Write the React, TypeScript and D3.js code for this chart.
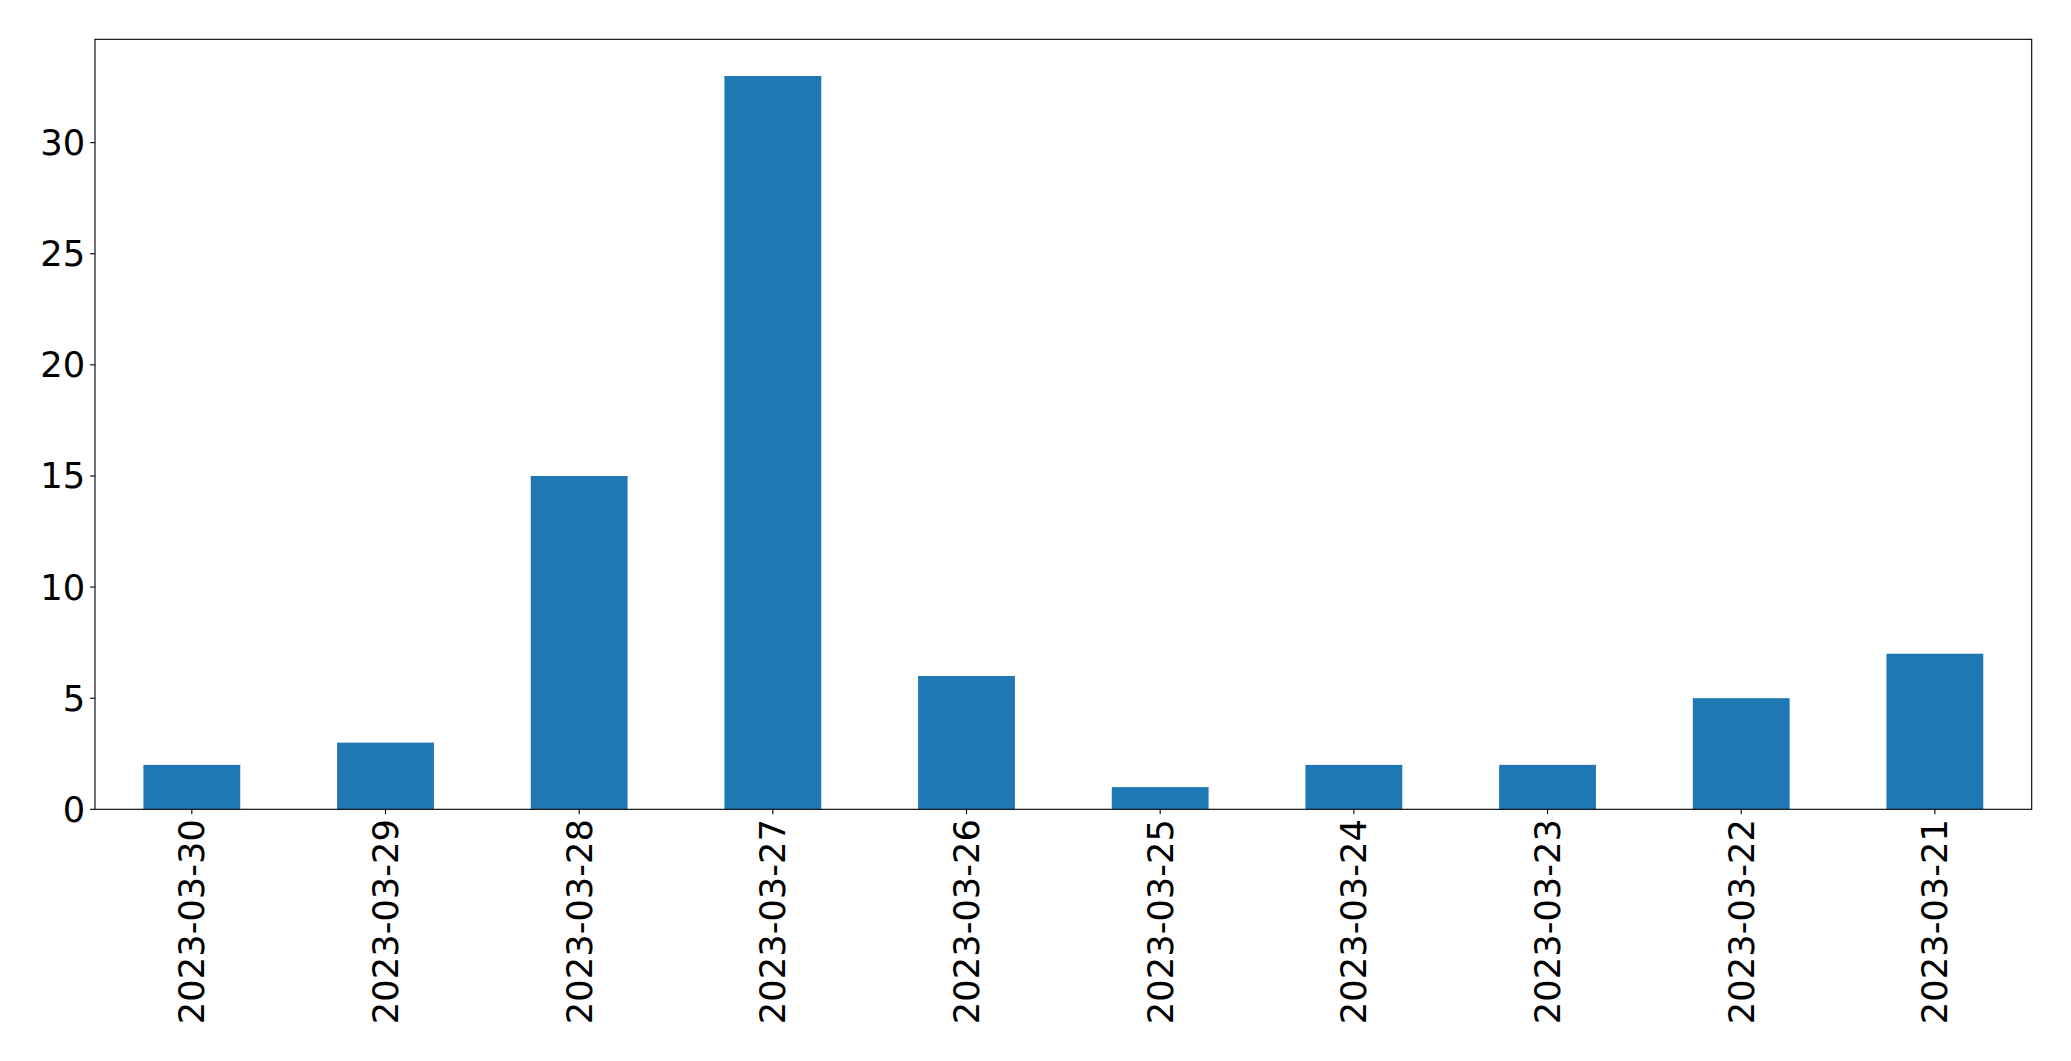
import React, { useEffect, useRef } from "react";
import * as d3 from "d3";

const categories: string[] = [
  "2023-03-30", "2023-03-29", "2023-03-28", "2023-03-27", "2023-03-26",
  "2023-03-25", "2023-03-24", "2023-03-23", "2023-03-22", "2023-03-21",
];
const counts: number[] = [2, 3, 15, 33, 6, 1, 2, 2, 5, 7];
const yTicks: number[] = [0, 5, 10, 15, 20, 25, 30];

const W = 2071;
const H = 1061;
const M = { left: 95, right: 2031.7, top: 39.3, bottom: 809.3 };
const FONT = "'DejaVu Sans', sans-serif";
const FS = 35.3;
const TICK = 4.86;
const PAD = 4.86;

export default function App() {
  const ref = useRef<SVGSVGElement>(null);
  useEffect(() => {
    const svg = d3.select(ref.current);
    svg.selectAll("*").remove();
    const x = d3.scaleLinear().domain([-0.5, categories.length - 0.5]).range([M.left, M.right]);
    const yMax = d3.max(counts)! * 1.05;
    const y = d3.scaleLinear().domain([0, yMax]).range([M.bottom, M.top]);
    const bw = x(0.25) - x(-0.25);

    svg.append("rect").attr("x", 0).attr("y", 0).attr("width", W).attr("height", H).attr("fill", "#fff");

    svg.append("g").selectAll("rect").data(counts).join("rect")
      .attr("x", (_d, i) => x(i) - bw / 2)
      .attr("width", bw)
      .attr("y", (d) => y(d))
      .attr("height", (d) => y(0) - y(d))
      .attr("fill", "#1f77b4");

    // frame
    svg.append("rect")
      .attr("x", M.left).attr("y", M.top)
      .attr("width", M.right - M.left).attr("height", M.bottom - M.top)
      .attr("fill", "none").attr("stroke", "#000").attr("stroke-width", 1.11);

    // y ticks
    const gy = svg.append("g");
    yTicks.forEach((t) => {
      gy.append("line").attr("x1", M.left - TICK).attr("x2", M.left)
        .attr("y1", y(t)).attr("y2", y(t)).attr("stroke", "#000").attr("stroke-width", 1.11);
      gy.append("text").attr("x", M.left - TICK - PAD).attr("y", y(t))
        .attr("text-anchor", "end").attr("dominant-baseline", "central")
        .attr("font-family", FONT).attr("font-size", FS).attr("fill", "#000")
        .text(String(t));
    });

    // x ticks
    const gx = svg.append("g");
    categories.forEach((c, i) => {
      const xp = x(i);
      gx.append("line").attr("x1", xp).attr("x2", xp)
        .attr("y1", M.bottom).attr("y2", M.bottom + TICK).attr("stroke", "#000").attr("stroke-width", 1.11);
      gx.append("text")
        .attr("transform", `translate(${xp},${M.bottom + TICK + PAD}) rotate(-90)`)
        .attr("text-anchor", "end").attr("dominant-baseline", "central")
        .attr("font-family", FONT).attr("font-size", FS).attr("fill", "#000")
        .text(c);
    });
  }, []);
  return (
    <svg ref={ref} width={W} height={H}
      style={{ position: "absolute", left: 0, top: 0, display: "block" }} />
  );
}
